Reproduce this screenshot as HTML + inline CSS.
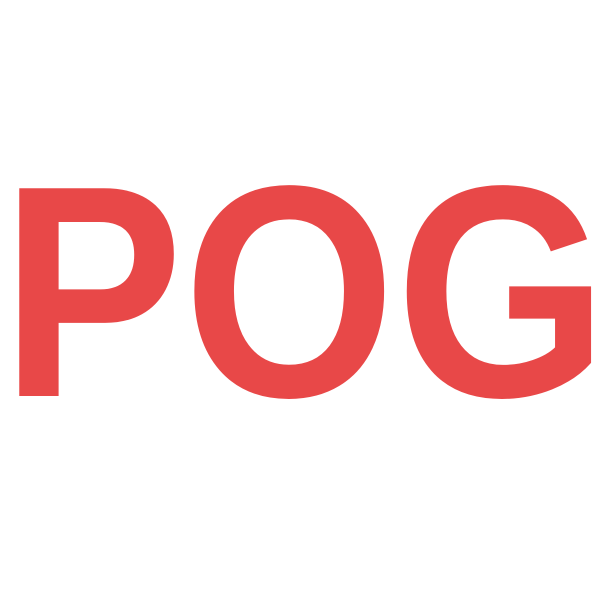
<!DOCTYPE html>
<html>
<head>
<meta charset="utf-8">
<style>
  html, body { margin: 0; padding: 0; background: #ffffff; }
  body { width: 600px; height: 600px; overflow: hidden; }
</style>
</head>
<body>
<svg width="600" height="600" viewBox="0 0 600 600">
  <rect width="600" height="600" fill="#ffffff"/>
  <text x="1" y="396" font-family="'Liberation Sans', Arial, sans-serif" font-weight="bold" font-size="302" fill="#E84848" textLength="607" lengthAdjust="spacingAndGlyphs">POG</text>
</svg>
</body>
</html>
